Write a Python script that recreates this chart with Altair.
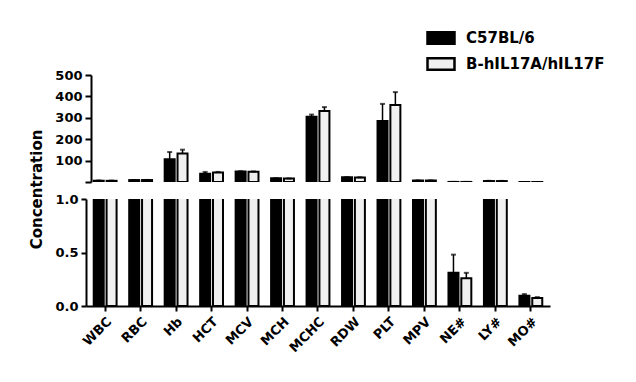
import altair as alt
import pandas as pd

categories = ["WBC", "RBC", "Hb", "HCT", "MCV", "MCH", "MCHC", "RDW", "PLT", "MPV", "NE#", "LY#", "MO#"]
series = ["C57BL/6", "B-hIL17A/hIL17F"]
c57_mean = [6.0, 9.0, 106, 39, 49, 17, 305, 22, 285, 7.0, 0.31, 4.5, 0.096]
c57_sd = [1.0, 0.4, 34, 8, 1.5, 0.6, 10, 1.0, 80, 0.4, 0.17, 1.0, 0.015]
hil_mean = [5.5, 9.2, 133, 44, 48, 16, 332, 21, 360, 7.0, 0.26, 4.3, 0.075]
hil_sd = [1.0, 0.4, 18, 3, 1.2, 0.5, 18, 1.0, 60, 0.4, 0.05, 0.8, 0.008]

rows = []
for i, c in enumerate(categories):
    rows.append(dict(cat=c, grp=series[0], mean=c57_mean[i], top=c57_mean[i] + c57_sd[i]))
    rows.append(dict(cat=c, grp=series[1], mean=hil_mean[i], top=hil_mean[i] + hil_sd[i]))
df = pd.DataFrame(rows)

FONT = "DejaVu Sans"
W = 464
H = 107

fill_scale = alt.Scale(domain=series, range=["#000000", "#f0f0f0"])
x_scale = alt.Scale(paddingInner=0, paddingOuter=0.04)
xoff = alt.XOffset("grp:N", sort=series,
                   scale=alt.Scale(domain=series, paddingInner=0, paddingOuter=0.38))


def panel(domain, yaxis, xaxis, legend):
    yscale = alt.Scale(domain=domain, nice=False, zero=True)
    base = alt.Chart(df).encode(
        x=alt.X("cat:N", sort=categories, scale=x_scale, axis=xaxis),
        xOffset=xoff,
    )
    bars = base.mark_bar(width=10, stroke="black", strokeWidth=2, clip=True).encode(
        y=alt.Y("mean:Q", scale=yscale, axis=yaxis),
        fill=alt.Fill("grp:N", scale=fill_scale, legend=legend),
    )
    err = base.mark_rule(color="black", strokeWidth=1.5, clip=True).encode(
        y=alt.Y("mean:Q", scale=yscale, axis=yaxis), y2="top:Q"
    )
    cap = base.mark_tick(color="black", thickness=2, size=5, clip=True).encode(
        y=alt.Y("top:Q", scale=yscale, axis=yaxis)
    )
    return alt.layer(bars, err, cap).properties(width=W, height=H)


axis_common = dict(
    domainColor="black", domainWidth=2, tickColor="black", tickWidth=2,
    labelColor="black", labelFont=FONT, labelFontWeight="bold", labelFontSize=13,
    grid=False, labelOverlap=False,
)

top_y = alt.Axis(
    values=[0, 100, 200, 300, 400, 500], title=None, offset=-5, tickSize=6,
    labelExpr="datum.value == 0 ? '' : datum.label", labelPadding=3, **axis_common
)
bot_y = alt.Axis(
    values=[0, 0.5, 1.0], format=".1f", title="Concentration", tickSize=5,
    titleFont=FONT, titleFontWeight="bold", titleFontSize=15, titleColor="black",
    titleX=-50, titleY=-10, titleAlign="center", titleBaseline="middle", titleAngle=-90,
    labelPadding=3, **axis_common
)
bot_x = alt.Axis(
    title=None, labelAngle=-45, tickSize=5, labelPadding=4, **axis_common
)

legend = alt.Legend(
    title=None, orient="none", legendX=340, legendY=-52,
    symbolType="M-1,-0.42H1V0.42H-1Z", symbolSize=729,
    symbolStrokeColor="black", symbolStrokeWidth=2.5,
    labelFont=FONT, labelFontSize=15, labelFontWeight="bold", labelColor="black",
    labelOffset=10, rowPadding=-6,
)

top = panel([0, 500], top_y, None, legend)
bottom = panel([0, 1.0], bot_y, bot_x, None)

chart = alt.vconcat(top, bottom, spacing=17, bounds="flush").configure_view(
    stroke=None
).properties(
    background="white",
    padding={"top": 15, "left": 20, "right": 5, "bottom": 5},
)

chart.save("out.html", embed_options={"renderer": "svg", "actions": False})
